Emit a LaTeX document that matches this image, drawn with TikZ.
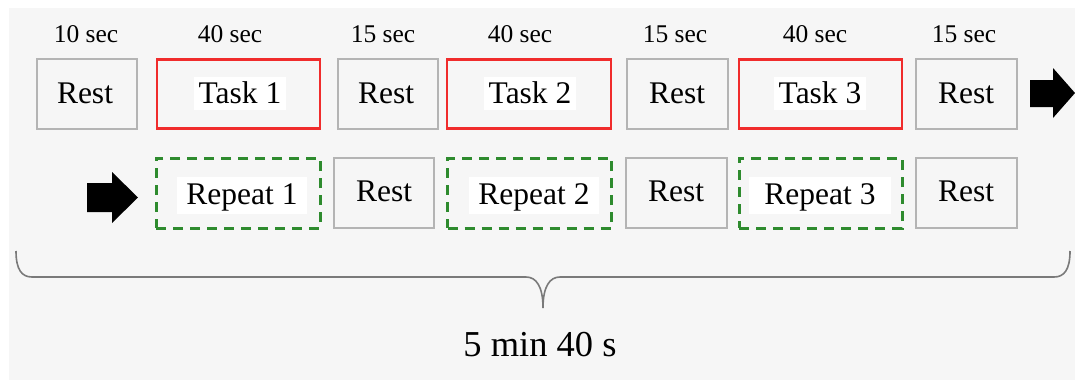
\documentclass[tikz,border=0pt]{standalone}
\usepackage{fontspec}
\setmainfont{Liberation Serif}
\definecolor{panel}{HTML}{F6F6F6}
\definecolor{boxgray}{HTML}{B4B4B4}
\definecolor{taskred}{HTML}{F02C2C}
\definecolor{repgreen}{HTML}{2E8B2E}
\definecolor{bracegray}{HTML}{7A7A7A}
\begin{document}
\begin{tikzpicture}[x=1pt,y=-1pt,
  every node/.style={inner sep=0pt, outer sep=0pt},
  restbox/.style={draw=boxgray, line width=1.5pt, minimum height=70pt, minimum width=100pt},
  taskbox/.style={draw=taskred, line width=2.5pt, minimum height=69pt, minimum width=163pt},
  repbox/.style={draw=repgreen, line width=3pt, dash pattern=on 10pt off 7pt, minimum height=70pt, minimum width=164pt},
  lbl/.style={font=\fontsize{25.5}{30}\selectfont, anchor=base},
  resttxt/.style={font=\fontsize{31.5}{37}\selectfont, anchor=base},
  tasktxt/.style={font=\fontsize{31.5}{37}\selectfont, anchor=base, fill=white, inner xsep=5pt, inner ysep=5pt, text height=21pt, text depth=2pt},
  reptxt/.style={font=\fontsize{31.5}{37}\selectfont, anchor=base, fill=white, inner xsep=9pt, inner ysep=5pt, text height=22pt, text depth=5pt},
  blockarrow/.style={fill=black},
  bracepath/.style={draw=bracegray, line width=1.6pt}
]
\useasboundingbox (0,0) rectangle (1075,380);
\fill[panel] (9,8) rectangle (1075,380);

% duration labels
\node[lbl] (l1) at (86,42) {10 sec};
\node[lbl] (l2) at (230,42) {40 sec};
\node[lbl] (l3) at (383,42) {15 sec};
\node[lbl] (l4) at (520,42) {40 sec};
\node[lbl] (l5) at (675,42) {15 sec};
\node[lbl] (l6) at (815,42) {40 sec};
\node[lbl] (l7) at (964,42) {15 sec};

% row 1
\node[restbox] (r1) at (87,94) {};
\node[resttxt] (r1t) at (85,103) {Rest};
\node[taskbox] (t1) at (238.5,94) {};
\node[tasktxt] (t1t) at (240,103) {Task 1};
\node[restbox] (r2) at (388,94) {};
\node[resttxt] (r2t) at (386,103) {Rest};
\node[taskbox, minimum width=164pt] (t2) at (529,94) {};
\node[tasktxt] (t2t) at (530,103) {Task 2};
\node[restbox, minimum width=101pt] (r3) at (677.5,94) {};
\node[resttxt] (r3t) at (677,103) {Rest};
\node[taskbox] (t3) at (820.5,94) {};
\node[tasktxt] (t3t) at (820,103) {Task 3};
\node[restbox, minimum width=101pt] (r4) at (966.5,94) {};
\node[resttxt] (r4t) at (966,103) {Rest};

% row 2
\node[repbox] (p1) at (238,193) {};
\node[reptxt] (p1t) at (242,204) {Repeat 1};
\node[restbox] (s1) at (384,193) {};
\node[resttxt] (s1t) at (384,201) {Rest};
\node[repbox] (p2) at (529.5,193) {};
\node[reptxt] (p2t) at (534,204) {Repeat 2};
\node[restbox, minimum width=101pt] (s2) at (676.5,193) {};
\node[resttxt] (s2t) at (676,201) {Rest};
\node[repbox, minimum width=163pt] (p3) at (820.5,193) {};
\node[reptxt, minimum width=142pt] (p3t) at (820,204) {Repeat 3};
\node[restbox, minimum width=101pt] (s3) at (966.5,193) {};
\node[resttxt] (s3t) at (966,201) {Rest};

% block arrows
\fill[blockarrow] (1030,80) -- (1053,80) -- (1053,68) -- (1075,93) -- (1053,118) -- (1053,107) -- (1030,107) -- cycle;
\fill[blockarrow] (87,183) -- (112,183) -- (112,172) -- (138,197.5) -- (112,223) -- (112,212) -- (87,212) -- cycle;

% brace
\coordinate (bl) at (16,251);
\coordinate (br) at (1070,251);
\coordinate (btip) at (543,308);
\draw[bracepath] (bl) .. controls (16,270) and (22,277) .. (32,277)
  -- (526,277) .. controls (536,277) and (543,286) .. (btip)
  .. controls (543,286) and (550,277) .. (560,277)
  -- (1054,277) .. controls (1064,277) and (1070,270) .. (br);

\node[font=\fontsize{36.5}{42}\selectfont, anchor=base] (total) at (540,356) {5 min 40 s};
\end{tikzpicture}
\end{document}
